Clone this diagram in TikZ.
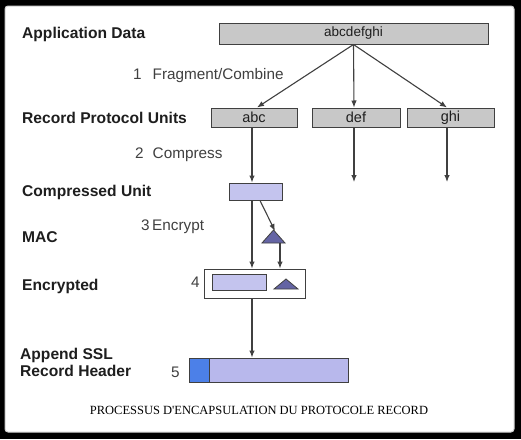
\documentclass[tikz,border=0pt]{standalone}
\usepackage{fontspec}
\setmainfont{Liberation Sans}
\newfontfamily\capfont{Liberation Serif}
\usetikzlibrary{arrows.meta}
\definecolor{boxgray}{HTML}{C8C8C8}
\definecolor{edge}{HTML}{404040}
\definecolor{lav}{HTML}{C4C4EE}
\definecolor{lavgrid}{HTML}{B8B8EC}
\definecolor{tri}{HTML}{6464A4}
\definecolor{hdrblue}{HTML}{4C80E8}
\definecolor{labelc}{HTML}{1E1E1E}
\definecolor{stepc}{HTML}{404040}
\definecolor{framegray}{HTML}{D0D0D0}
\begin{document}
\begin{tikzpicture}[x=1pt,y=-1pt,
  lbl/.style={anchor=west,inner sep=0pt,text=labelc,font=\fontsize{15.6}{17}\selectfont\bfseries},
  txt/.style={anchor=west,inner sep=0pt,text=stepc,font=\fontsize{15.3}{17}\selectfont},
  gbox/.style={draw=edge,fill=boxgray,line width=1pt,inner sep=0pt,text=labelc,font=\fontsize{14.5}{16}\selectfont},
  lbox/.style={draw=edge,fill=lav,line width=1pt,inner sep=0pt},
  arr/.style={draw=edge,line width=1.1pt,-{Latex[length=7pt,width=5.5pt]}},
  trifill/.style={draw=edge,fill=tri,line width=0.8pt}]
\useasboundingbox (0,0) rectangle (521,439);
\fill[black] (0,0) rectangle (521,439);
\filldraw[fill=white,draw=framegray,line width=1pt,rounded corners=3pt] (5,6) rectangle (514,432);

% left labels
\node[lbl] (lApp) at (22,34) {Application Data};
\node[lbl] (lRPU) at (22,118) {Record Protocol Units};
\node[lbl] (lCU) at (22,192) {Compressed Unit};
\node[lbl] (lMAC) at (22,237) {MAC};
\node[lbl] (lEnc) at (22,286) {Encrypted};
\node[lbl,align=left] (lHdr) at (20,362) {Append SSL\\Record Header};

% step texts
\node[txt] (s1) at (133,76) {1\hspace{11pt}Fragment/Combine};
\node[txt] (s2) at (135,155) {2\hspace{9pt}Compress};
\node[txt] (s3) at (141,227) {3\,Encrypt};
\node[txt] (s4) at (191,282) {4};
\node[txt] (s5) at (171,372) {5};

% boxes
\node[gbox,minimum width=269,minimum height=21,font=\fontsize{13.5}{15}\selectfont] (app) at (353.5,33.5) {abcdefghi};
\node[gbox,minimum width=86,minimum height=19] (abc) at (254,117.5) {abc};
\node[gbox,minimum width=88,minimum height=19] (def) at (356,117.5) {def};
\node[gbox,minimum width=87,minimum height=19] (ghi) at (450.5,117.5) {ghi};

\draw[arr] (app.south) -- ([xshift=3]abc.north);
\draw[arr] (app.south) -- ([xshift=-2]def.north);
\draw[arr] (app.south) -- ([xshift=-3.5]ghi.north);

\node[lbox,minimum width=53,minimum height=17] (cu) at (255.5,191.5) {};
\coordinate (defEnd) at (354,182);
\coordinate (ghiEnd) at (447,182);
\draw[arr] ([xshift=-2]abc.south) -- ([xshift=-3.5]cu.north);
\draw[arr] ([xshift=-2]def.south) -- (defEnd);
\draw[arr] ([xshift=-3.5]ghi.south) -- (ghiEnd);

% MAC triangle
\coordinate (macTop) at (273.5,230);
\coordinate (macBot) at (280,243);
\filldraw[trifill] (262,243) -- (273.5,230) -- (285,243) -- cycle;
\draw[arr] ([xshift=4.5]cu.south) -- ([xshift=1.5,yshift=-1]macTop);

% encrypted
\node[draw=edge,fill=white,line width=1pt,inner sep=0pt,minimum width=101,minimum height=29] (enc) at (254.5,283.5) {};
\node[lbox,minimum width=54,minimum height=16] (encData) at (239,282.5) {};
\filldraw[trifill] (274,289) -- (286,279) -- (298,289) -- cycle;
\draw[arr] ([xshift=-3.5]cu.south) -- ([xshift=-2.5]enc.north);
\draw[arr] (macBot) -- ([xshift=25.5]enc.north);

% final record
\node[draw=edge,fill=lavgrid,line width=1pt,inner sep=0pt,minimum width=139,minimum height=24] (body) at (278.5,370) {};
\node[draw=edge,fill=hdrblue,line width=1pt,inner sep=0pt,minimum width=20,minimum height=24] (hdr) at (199,370) {};
\draw[arr] ([xshift=-2.5]enc.south) -- ([xshift=-26.5]body.north);

% caption
\node[inner sep=0pt,font=\capfont\fontsize{12.5}{14}\selectfont] (cap) at (259,410) {PROCESSUS D'ENCAPSULATION DU PROTOCOLE RECORD};
\end{tikzpicture}
\end{document}
